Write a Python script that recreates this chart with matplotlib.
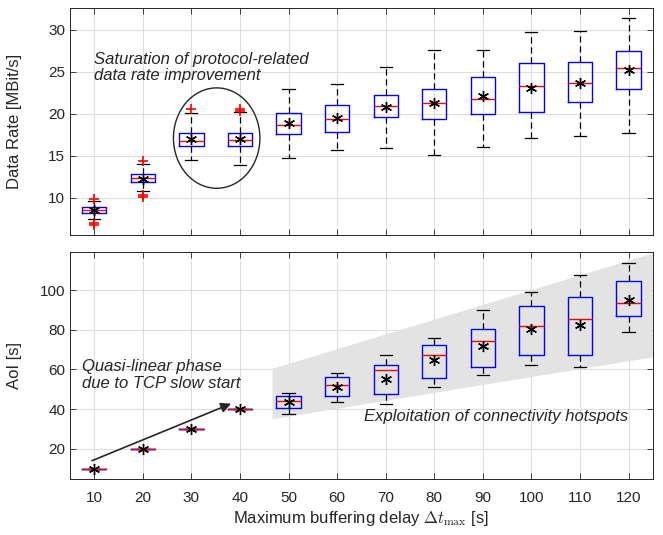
import matplotlib.pyplot as plt
from matplotlib.patches import Ellipse, Polygon

plt.rcParams['font.family'] = ['Liberation Sans', 'DejaVu Sans']
plt.rcParams['mathtext.fontset'] = 'cm'

# Maximum buffering delay [s]
delays = [10, 20, 30, 40, 50, 60, 70, 80, 90, 100, 110, 120]

# Data rate [MBit/s] - box statistics
dr_whislo = [7.44, 10.79, 14.54, 13.94, 14.78, 15.73, 15.93, 15.05, 16.05, 17.08, 17.32, 17.72]
dr_q1 = [8.24, 11.86, 16.13, 16.13, 17.65, 17.80, 19.63, 19.44, 19.99, 20.27, 21.39, 22.94]
dr_med = [8.57, 12.34, 16.81, 16.93, 18.68, 19.39, 20.95, 21.27, 21.83, 23.26, 23.62, 25.41]
dr_q3 = [8.88, 12.87, 17.77, 17.77, 20.11, 21.11, 22.30, 23.02, 24.37, 26.00, 26.13, 27.48]
dr_whishi = [9.64, 14.06, 20.16, 20.23, 22.94, 23.50, 25.53, 27.64, 27.60, 29.78, 29.90, 31.39]
dr_mean = [8.55, 12.30, 17.05, 17.05, 18.88, 19.47, 20.87, 21.30, 22.07, 23.06, 23.69, 25.21]
dr_fliers = [[9.88, 7.0, 6.77], [14.37, 10.36, 10.07], [20.63], [20.6, 20.4],
             [], [], [], [], [], [], [], []]

# Age of Information [s] - box statistics
aoi_whislo = [10, 20, 30, 40, 37.6, 43.8, 42.6, 51.3, 57.4, 62.3, 61.1, 78.9]
aoi_q1 = [10, 20, 30, 40, 40.5, 46.7, 47.5, 55.6, 61.1, 67.1, 67.1, 86.8]
aoi_med = [10, 20, 30, 40, 44.3, 52.2, 59.6, 67.4, 74.3, 81.7, 85.4, 93.5]
aoi_q3 = [10, 20, 30, 40, 46.7, 56.4, 62.1, 72.5, 80.2, 92.0, 96.6, 104.4]
aoi_whishi = [10, 20, 30, 40, 48.0, 58.2, 67.4, 75.8, 89.9, 98.8, 107.7, 113.7]
aoi_mean = [10, 20, 30, 40, 43.6, 51.3, 55.4, 64.6, 72.0, 80.2, 82.4, 94.8]

# shaded region of connectivity hotspots
hot_x = [46.7, 125, 125, 46.7]
hot_y = [60.3, 118.5, 66.1, 34.9]


def make_stats(lo, q1, med, q3, hi, mean, fliers=None):
    stats = []
    for i in range(len(med)):
        stats.append(dict(whislo=lo[i], q1=q1[i], med=med[i], q3=q3[i],
                          whishi=hi[i], mean=mean[i],
                          fliers=fliers[i] if fliers else []))
    return stats


box_style = dict(
    widths=5, showmeans=True, patch_artist=False,
    boxprops=dict(color='blue', lw=1.0),
    medianprops=dict(color='red', lw=1.0),
    whiskerprops=dict(color='black', ls=(0, (5, 3)), lw=0.9),
    capprops=dict(color='black', lw=0.9),
    flierprops=dict(marker='+', markeredgecolor='red', markersize=7, mew=1.2),
    meanprops=dict(marker=(6, 2, 0), markeredgecolor='black', markerfacecolor='black',
                   markersize=8, mew=1.0),
)

fig = plt.figure(figsize=(6.63, 5.35), dpi=100)
ax1 = fig.add_axes([0.1056, 0.561, 0.879, 0.424])
ax2 = fig.add_axes([0.1056, 0.105, 0.879, 0.424])

ax1.bxp(make_stats(dr_whislo, dr_q1, dr_med, dr_q3, dr_whishi, dr_mean, dr_fliers),
        positions=delays, **box_style)
ax2.bxp(make_stats(aoi_whislo, aoi_q1, aoi_med, aoi_q3, aoi_whishi, aoi_mean),
        positions=delays, **box_style)

for ax in (ax1, ax2):
    ax.set_xlim(5, 125)
    ax.set_xticks(delays)
    ax.set_axisbelow(True)
    ax.grid(True, color='#dedede', lw=0.8)
    ax.tick_params(direction='in', top=True, right=True, length=4,
                   labelsize=11, colors='#262626', width=0.6)
    ax.tick_params(axis='x', pad=9)
    for s in ax.spines.values():
        s.set_color('#262626')
        s.set_linewidth(0.7)

ax1.set_ylim(5.6, 32.6)
ax1.set_yticks([10, 15, 20, 25, 30])
ax1.tick_params(labelbottom=False)
ax1.set_ylabel('Data Rate [MBit/s]', fontsize=12, color='#262626')
ax1.yaxis.set_label_coords(-0.082, 0.5)

ax2.set_ylim(4.9, 119.2)
ax2.set_yticks([20, 40, 60, 80, 100])
ax2.set_xticklabels([str(d) for d in delays])
ax2.set_ylabel('AoI [s]', fontsize=12, color='#262626')
ax2.yaxis.set_label_coords(-0.082, 0.5)
ax2.set_xlabel(r'Maximum buffering delay $\Delta t_{\max}$ [s]', fontsize=12, color='#262626',
               labelpad=3)

# annotations top panel
ax1.add_patch(Ellipse((35.2, 17.12), 17.8, 11.95, fill=False, ec='#262626', lw=1.0))
ax1.text(10.0, 25.5, 'Saturation of protocol-related\ndata rate improvement',
         style='italic', fontsize=12, color='#262626', va='center', linespacing=1.1)

# annotations bottom panel
ax2.add_patch(Polygon(list(zip(hot_x, hot_y)), closed=True, fc='#e3e3e3', ec='none', zorder=1))
ax2.annotate('', xy=(38.7, 43.3), xytext=(9.0, 13.5),
             arrowprops=dict(arrowstyle='-|>', color='#262626', lw=1.2, mutation_scale=15))
ax2.text(7.5, 57.2, 'Quasi-linear phase\ndue to TCP slow start',
         style='italic', fontsize=12, color='#262626', va='center', linespacing=1.1)
ax2.text(65.5, 36.3, 'Exploitation of connectivity hotspots',
         style='italic', fontsize=12, color='#262626', va='center')

fig.savefig('out.png', dpi=100)
